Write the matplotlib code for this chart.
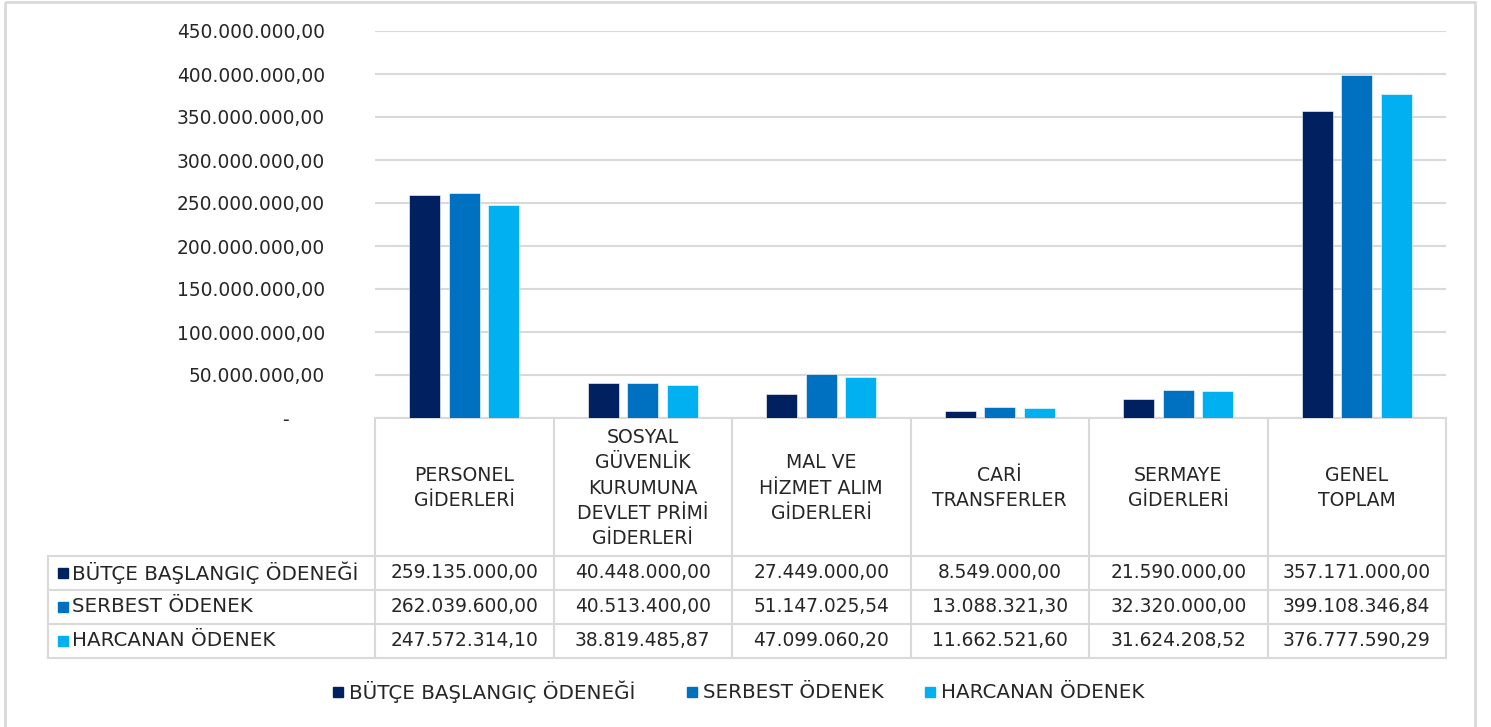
import matplotlib
matplotlib.use("Agg")
import matplotlib.pyplot as plt
import numpy as np
from matplotlib.patches import Rectangle

plt.rcParams['font.family'] = ['DejaVu Sans']

categories = ["PERSONEL\nGİDERLERİ",
              "SOSYAL\nGÜVENLİK\nKURUMUNA\nDEVLET PRİMİ\nGİDERLERİ",
              "MAL VE\nHİZMET ALIM\nGİDERLERİ",
              "CARİ\nTRANSFERLER",
              "SERMAYE\nGİDERLERİ",
              "GENEL\nTOPLAM"]
series_names = ["BÜTÇE BAŞLANGIÇ ÖDENEĞİ", "SERBEST ÖDENEK", "HARCANAN ÖDENEK"]
butce = [259135000.00, 40448000.00, 27449000.00, 8549000.00, 21590000.00, 357171000.00]
serbest = [262039600.00, 40513400.00, 51147025.54, 13088321.30, 32320000.00, 399108346.84]
harcanan = [247572314.10, 38819485.87, 47099060.20, 11662521.60, 31624208.52, 376777590.29]
series_values = [butce, serbest, harcanan]
colors = ["#002060", "#0070C0", "#00B0F0"]
y_ticks = np.arange(0, 450000001, 50000000)


def tr_fmt(v):
    s = f"{v:,.2f}"
    return s.replace(",", "X").replace(".", ",").replace("X", ".")


W, H = 1491, 727
fig = plt.figure(figsize=(W / 100, H / 100), dpi=100)

# pixel layout
ax_left, ax_right, ax_top, ax_bottom = 375, 1446, 31, 418
ax = fig.add_axes([ax_left / W, 1 - ax_bottom / H, (ax_right - ax_left) / W, (ax_bottom - ax_top) / H])
n = len(categories)
x = np.arange(n)
bw = 0.175
offs = [-0.221, 0.0, 0.221]
for vals, col, off, name in zip(series_values, colors, offs, series_names):
    ax.bar(x + off, vals, width=bw, color=col, edgecolor="white", linewidth=0.4, label=name, zorder=3)
ax.set_xlim(-0.5, n - 0.5)
ax.set_ylim(0, 450000000)
ax.set_yticks(y_ticks)
ax.set_yticklabels(["-" + " " * 6 if v == 0 else tr_fmt(v) for v in y_ticks], fontsize=13.4, color="#262626")
ax.tick_params(axis="y", length=0, pad=36)
ax.set_xticks([])
for s in ax.spines.values():
    s.set_visible(False)
ax.grid(axis="y", color="#d9d9d9", linewidth=1.5, zorder=0)
ax.set_facecolor("none")

# overlay in pixel coordinates
ov = fig.add_axes([0, 0, 1, 1], zorder=-1)
ov.set_xlim(0, W)
ov.set_ylim(H, 0)
ov.axis("off")

grid_c = "#d9d9d9"
lw = 1.5
# outer border
ov.add_patch(Rectangle((5, 2), 1470, 730, fill=False, edgecolor=grid_c, linewidth=2))

col_w = (ax_right - ax_left) / n
row_tops = [556, 590, 624, 658]
label_left = 48
# horizontal lines
ov.plot([ax_left, ax_right], [ax_bottom, ax_bottom], color=grid_c, lw=lw)
for yy in row_tops:
    ov.plot([label_left, ax_right], [yy, yy], color=grid_c, lw=lw)
# vertical lines
ov.plot([label_left, label_left], [row_tops[0], row_tops[-1]], color=grid_c, lw=lw)
for i in range(n + 1):
    xx = ax_left + i * col_w
    ov.plot([xx, xx], [ax_bottom, row_tops[-1]], color=grid_c, lw=lw)

txt_c = "#262626"
fs_num = 13.4
fs_txt = 14.3
# header text
for i, cat in enumerate(categories):
    cx = ax_left + (i + 0.5) * col_w
    ov.text(cx, (ax_bottom + row_tops[0]) / 2 + 1, cat, ha="center", va="center",
            fontsize=13.6, color=txt_c, linespacing=1.42)

# rows
for r, (name, vals, col) in enumerate(zip(series_names, series_values, colors)):
    cy = (row_tops[r] + row_tops[r + 1]) / 2
    ov.add_patch(Rectangle((58, cy - 5), 10, 10, color=col))
    ov.text(72, cy, name, ha="left", va="center", fontsize=fs_txt, color=txt_c)
    for i, v in enumerate(vals):
        cx = ax_left + (i + 0.5) * col_w
        ov.text(cx, cy, tr_fmt(v), ha="center", va="center", fontsize=fs_num, color=txt_c)

# legend
leg_x = [333, 687, 925]
leg_y = 692
for lx, name, col in zip(leg_x, series_names, colors):
    ov.add_patch(Rectangle((lx, leg_y - 5), 10, 10, color=col))
    ov.text(lx + 16, leg_y, name, ha="left", va="center", fontsize=fs_txt, color=txt_c)

fig.savefig("out.png", dpi=100, facecolor="white")
